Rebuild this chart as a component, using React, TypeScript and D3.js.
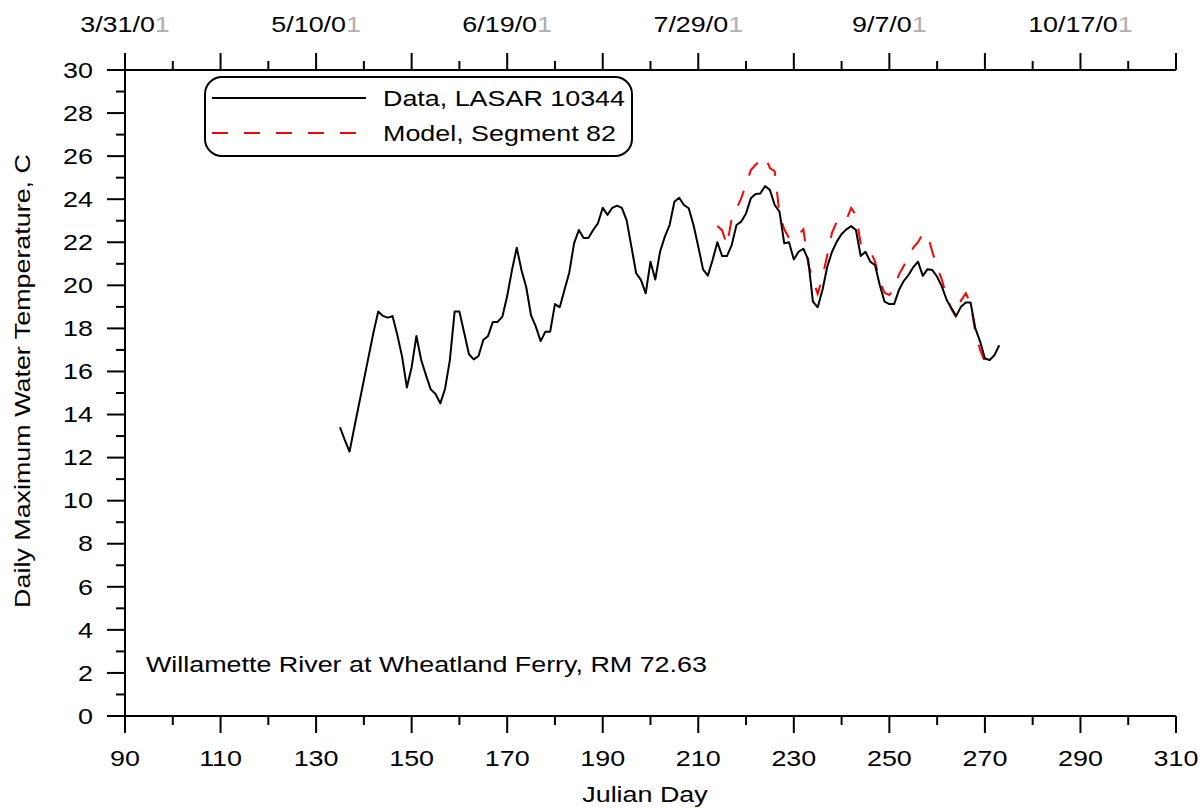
import React from "react";
import * as d3 from "d3";

// ---- Data ----
// Julian day ticks
const X_TICKS_MAJOR = [90, 110, 130, 150, 170, 190, 210, 230, 250, 270, 290, 310];
const X_TICKS_MINOR = [100, 120, 140, 160, 180, 200, 220, 240, 260, 280, 300];
const Y_TICKS_MAJOR = [0, 2, 4, 6, 8, 10, 12, 14, 16, 18, 20, 22, 24, 26, 28, 30];
const Y_TICKS_MINOR = [1, 3, 5, 7, 9, 11, 13, 15, 17, 19, 21, 23, 25, 27, 29];
// top date axis: label text and the Julian day it sits on
const DATE_LABELS = ["3/31/01", "5/10/01", "6/19/01", "7/29/01", "9/7/01", "10/17/01"];
const DATE_DAYS = [90, 130, 170, 210, 250, 290];

// Observed daily maximum (LASAR 10344), one value per day starting at day 135
const DATA_START_DAY = 135;
const DATA_TEMP = [
  13.41, 12.82, 12.28, 13.4, 14.5, 15.6, 16.7, 17.8, 18.78, 18.58,
  18.5, 18.57, 17.7, 16.69, 15.26, 16.2, 17.65, 16.53, 15.83, 15.17,
  14.95, 14.52, 15.2, 16.53, 18.78, 18.78, 17.8, 16.8, 16.56, 16.72,
  17.46, 17.65, 18.3, 18.3, 18.55, 19.5, 20.7, 21.75, 20.7, 19.9,
  18.6, 18.08, 17.41, 17.85, 17.85, 19.13, 18.98, 19.79, 20.6, 21.95,
  22.57, 22.2, 22.2, 22.57, 22.88, 23.6, 23.27, 23.6, 23.7, 23.6,
  23.03, 21.8, 20.56, 20.25, 19.63, 21.1, 20.27, 21.56, 22.26, 22.8,
  23.88, 24.07, 23.73, 23.58, 22.8, 21.8, 20.74, 20.45, 21.18, 22.0,
  21.36, 21.36, 21.87, 22.8, 22.96, 23.34, 24.04, 24.24, 24.27, 24.61,
  24.43, 23.73, 23.42, 21.95, 22.0, 21.2, 21.56, 21.7, 21.2, 19.24,
  18.98, 19.78, 20.86, 21.56, 22.03, 22.38, 22.6, 22.75, 22.57, 21.36,
  21.56, 21.1, 20.94, 20.0, 19.24, 19.13, 19.13, 19.78, 20.2, 20.48,
  20.84, 21.1, 20.44, 20.75, 20.71, 20.4, 19.94, 19.32, 18.93, 18.58,
  19.01, 19.2, 19.2, 18.0, 17.39, 16.6, 16.53, 16.76, 17.22,
];

// Model, Segment 82, one value per day starting at day 214
const MODEL_START_DAY = 214;
const MODEL_TEMP = [
  22.75, 22.55, 21.85, 23.1, 23.55, 24.05, 24.7, 25.35, 25.6, 25.8,
  25.97, 25.45, 25.3, 23.3, 22.6, 22.2, 22.1, 22.35, 22.6, 21.0,
  20.25, 19.6, 20.4, 21.4, 22.45, 22.95, 23.15, 23.05, 23.6, 23.25,
  21.95, 21.8, 21.6, 21.1, 20.2, 19.65, 19.55, 19.86, 20.5, 20.9,
  21.3, 21.75, 22.0, 22.4, 22.35, 21.55, 20.85, 20.25, 19.47, 18.9,
  18.5, 19.3, 19.63, 19.17, 17.8, 17.0, 16.45, 16.37,
];

const SERIES_NAMES = ["Data, LASAR 10344", "Model, Segment 82"];
const X_TITLE = "Julian Day";
const Y_TITLE = "Daily Maximum Water Temperature, C";
const NOTE = "Willamette River at Wheatland Ferry, RM 72.63";

// ---- Styling ----
const FONT = "'Liberation Sans', Arial, Helvetica, sans-serif";
const FS = 21.5;
const SX = 1.25; // glyphs in the reference are wide

type LP = {
  x: number;
  y: number;
  anchor?: "start" | "middle" | "end";
  rot?: number;
  children: React.ReactNode;
};
function Label({ x, y, anchor = "start", rot = 0, children }: LP) {
  return (
    <text
      transform={`translate(${x},${y}) rotate(${rot}) scale(${SX},1)`}
      textAnchor={anchor}
      fontSize={FS}
      fontFamily={FONT}
      fill="#000"
    >
      {children}
    </text>
  );
}

export default function App() {
  const left = 125,
    right = 1176,
    top = 70,
    bottom = 716;
  const x = d3.scaleLinear().domain([90, 310]).range([left, right]);
  const y = d3.scaleLinear().domain([0, 30]).range([bottom, top]);

  const dataPts: [number, number][] = DATA_TEMP.map((v, i) => [DATA_START_DAY + i, v]);
  const modelPts: [number, number][] = MODEL_TEMP.map((v, i) => [MODEL_START_DAY + i, v]);
  const line = d3
    .line<[number, number]>()
    .x((d) => x(d[0]))
    .y((d) => y(d[1]));

  const ax = { stroke: "#000", strokeWidth: 2 };

  return (
    <svg
      width={1202}
      height={809}
      style={{ position: "absolute", left: 0, top: 0, background: "#fff" }}
    >
      <rect x={0} y={0} width={1202} height={809} fill="#fff" />

      {/* series */}
      <path d={line(modelPts) || ""} fill="none" stroke="#ff0000" strokeWidth={2} strokeDasharray="16,16" />
      <path d={line(dataPts) || ""} fill="none" stroke="#000" strokeWidth={2} strokeLinejoin="round" />

      {/* left axis */}
      <line x1={left} x2={left} y1={top} y2={bottom} {...ax} />
      {Y_TICKS_MAJOR.map((t) => (
        <g key={"ym" + t}>
          <line x1={left - 18} x2={left} y1={y(t)} y2={y(t)} {...ax} />
          <Label x={93} y={y(t) + 7.7} anchor="end">
            {t}
          </Label>
        </g>
      ))}
      {Y_TICKS_MINOR.map((t) => (
        <line key={"yn" + t} x1={left - 9} x2={left} y1={y(t)} y2={y(t)} {...ax} />
      ))}

      {/* bottom axis */}
      <line x1={left} x2={right} y1={bottom} y2={bottom} {...ax} />
      {X_TICKS_MAJOR.map((t) => (
        <g key={"xb" + t}>
          <line x1={x(t)} x2={x(t)} y1={bottom} y2={bottom + 17} {...ax} />
          <Label x={x(t)} y={766} anchor="middle">
            {t}
          </Label>
        </g>
      ))}
      {X_TICKS_MINOR.map((t) => (
        <line key={"xbn" + t} x1={x(t)} x2={x(t)} y1={bottom} y2={bottom + 9} {...ax} />
      ))}

      {/* top axis */}
      <line x1={left} x2={right} y1={top} y2={top} {...ax} />
      {X_TICKS_MAJOR.map((t) => (
        <line key={"xt" + t} x1={x(t)} x2={x(t)} y1={top} y2={top - 17} {...ax} />
      ))}
      {X_TICKS_MINOR.map((t) => (
        <line key={"xtn" + t} x1={x(t)} x2={x(t)} y1={top} y2={top - 9} {...ax} />
      ))}
      {DATE_LABELS.map((s, i) => (
        <Label key={"dl" + i} x={x(DATE_DAYS[i])} y={32} anchor="middle">
          {s.slice(0, -1)}
          <tspan fill="#b0b0b0">{s.slice(-1)}</tspan>
        </Label>
      ))}

      {/* titles */}
      <Label x={645} y={802} anchor="middle">
        {X_TITLE}
      </Label>
      <Label x={30} y={381} anchor="middle" rot={-90}>
        {Y_TITLE}
      </Label>
      <Label x={146} y={672}>
        {NOTE}
      </Label>

      {/* legend */}
      <rect x={205} y={77} width={427} height={79} rx={17} ry={17} fill="#fff" stroke="#000" strokeWidth={2} />
      <line x1={212} x2={366} y1={98} y2={98} stroke="#000" strokeWidth={2} />
      <line x1={212} x2={366} y1={133} y2={133} stroke="#ff0000" strokeWidth={2} strokeDasharray="16,16" />
      <Label x={383} y={106}>
        {SERIES_NAMES[0]}
      </Label>
      <Label x={383} y={141}>
        {SERIES_NAMES[1]}
      </Label>
    </svg>
  );
}
